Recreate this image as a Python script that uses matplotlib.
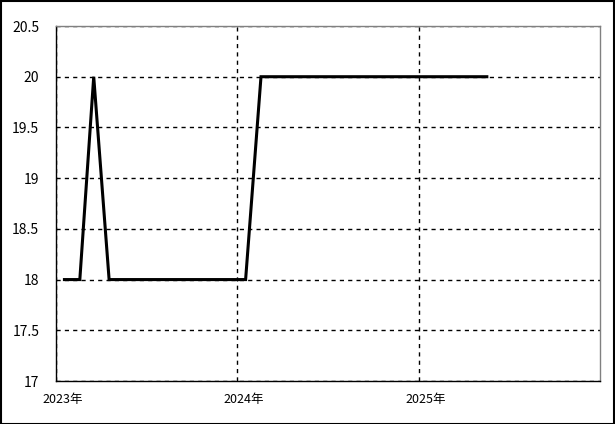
import matplotlib
matplotlib.use("Agg")
import matplotlib.pyplot as plt
import matplotlib.transforms as mtransforms
from matplotlib.patches import Rectangle
import datetime as dt

plt.rcParams['font.family'] = ['Noto Sans CJK JP', 'DejaVu Sans']

# Data: monthly values
months = ["2023-01", "2023-02", "2023-03", "2023-04", "2023-05", "2023-06", "2023-07",
          "2023-08", "2023-09", "2023-10", "2023-11", "2023-12", "2024-01", "2024-02",
          "2024-03", "2024-04", "2024-05", "2024-06", "2024-07", "2024-08", "2024-09",
          "2024-10", "2024-11", "2024-12", "2025-01", "2025-02", "2025-03", "2025-04",
          "2025-05"]
values = [18, 18, 20, 18, 18, 18, 18, 18, 18, 18, 18, 18, 18, 20,
          20, 20, 20, 20, 20, 20, 20, 20, 20, 20, 20, 20, 20, 20, 20]
year_ticks = [2023, 2024, 2025]
year_labels = ["2023年", "2024年", "2025年"]
y_ticks = [17, 17.5, 18, 18.5, 19, 19.5, 20, 20.5]
y_labels = ["17", "17.5", "18", "18.5", "19", "19.5", "20", "20.5"]

dates = [dt.datetime.strptime(m + "-18", "%Y-%m-%d") for m in months]

fig = plt.figure(figsize=(6.15, 4.24), dpi=100)
ax = fig.add_axes([56/615, (424-381)/424, (600-56)/615, (381-26)/424])

ax.plot(dates, values, color='black', linewidth=2.2, solid_joinstyle='miter')

ax.set_xlim(dt.datetime(2023, 1, 1), dt.datetime(2026, 1, 1))
ax.set_ylim(17, 20.5)
ax.set_yticks(y_ticks)
ax.set_yticklabels(y_labels, fontsize=10)
ax.set_xticks([dt.datetime(y, 1, 1) for y in year_ticks])
ax.set_xticklabels(year_labels, fontsize=9)
ax.tick_params(axis='both', length=0)
ax.tick_params(axis='y', pad=12)
ax.tick_params(axis='x', pad=9)

offset = mtransforms.ScaledTranslation(7/100, 0, fig.dpi_scale_trans)
for lab in ax.get_xticklabels():
    lab.set_transform(lab.get_transform() + offset)

ax.grid(True, color='black', linestyle=(0, (3, 3)), linewidth=1)
ax.set_axisbelow(True)
ax.spines['left'].set_color('black')
ax.spines['bottom'].set_color('black')
ax.spines['top'].set_color('#808080')
ax.spines['right'].set_color('#808080')
for s in ax.spines.values():
    s.set_linewidth(1)

fig.patches.append(Rectangle((0.5/615, 0.5/424), 613.5/615, 422.5/424, transform=fig.transFigure,
                             fill=False, edgecolor='black', linewidth=1.5))

fig.savefig("out.png", dpi=100)
